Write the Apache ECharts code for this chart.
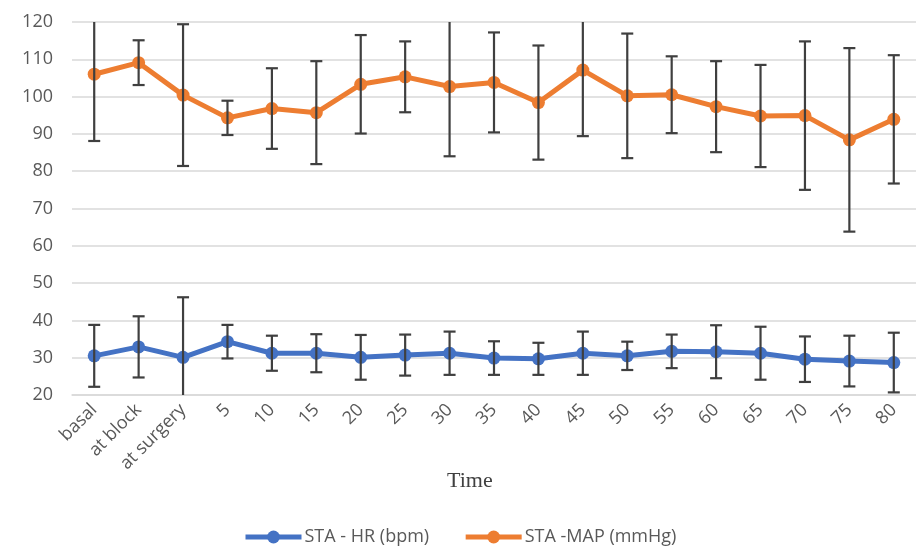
<!DOCTYPE html>
<html>
<head>
<meta charset="utf-8">
<script src="https://cdn.jsdelivr.net/npm/echarts@6/dist/echarts.min.js"></script>
<style>
  html, body { margin: 0; padding: 0; background: #fff; }
  #chart { width: 916px; height: 549px; }
</style>
</head>
<body>
<div id="chart"></div>
<script>
const timeLabels = ['basal', 'at block', 'at surgery', '5', '10', '15', '20', '25', '30', '35', '40', '45', '50', '55', '60', '65', '70', '75', '80'];

const hrMean = [30.5, 32.9, 30.1, 34.3, 31.2, 31.2, 30.1, 30.7, 31.2, 29.9, 29.7, 31.2, 30.5, 31.7, 31.6, 31.2, 29.6, 29.1, 28.7];
const hrSd = [8.3, 8.2, 16.1, 4.5, 4.7, 5.1, 6.0, 5.5, 5.8, 4.5, 4.3, 5.8, 3.8, 4.5, 7.1, 7.1, 6.1, 6.8, 8.0];

const mapMean = [106, 109.1, 100.4, 94.3, 96.8, 95.7, 103.3, 105.3, 102.7, 103.8, 98.4, 107.1, 100.2, 100.5, 97.3, 94.8, 94.9, 88.4, 93.9];
const mapSd = [17.9, 6, 19, 4.6, 10.8, 13.8, 13.2, 9.5, 18.7, 13.4, 15.3, 17.7, 16.7, 10.3, 12.2, 13.7, 19.9, 24.6, 17.2];

const yMin = 20, yMax = 120;

const errData = (mean, sd) => mean.map((m, i) => [i, m - sd[i], m + sd[i]]);

// error bars, clipped at the axis range (no cap where clipped)
const renderError = (params, api) => {
    const i = api.value(0);
    const lo = api.value(1), hi = api.value(2);
    const top = api.coord([i, Math.min(hi, yMax)]);
    const bot = api.coord([i, Math.max(lo, yMin)]);
    const cap = 6;
    const style = { stroke: '#3f3f3f', lineWidth: 2.2 };
    const children = [{ type: 'line', shape: { x1: top[0], y1: top[1], x2: bot[0], y2: bot[1] }, style }];
    if (hi <= yMax) children.push({ type: 'line', shape: { x1: top[0] - cap, y1: top[1], x2: top[0] + cap, y2: top[1] }, style });
    if (lo >= yMin) children.push({ type: 'line', shape: { x1: bot[0] - cap, y1: bot[1], x2: bot[0] + cap, y2: bot[1] }, style });
    return { type: 'group', children };
};

const chart = echarts.init(document.getElementById('chart'));
const font = 'Open Sans';
chart.setOption({
    animation: false,
    textStyle: { fontFamily: font },
    title: {
        text: 'Time', left: 442, top: 465,
        textStyle: { fontFamily: 'Liberation Serif', fontSize: 22, fontWeight: 'normal', color: '#404040' }
    },
    legend: {
        top: 523, left: 238, itemWidth: 56, itemHeight: 16, itemGap: 34,
        lineStyle: { width: 5 },
        textStyle: { fontSize: 18, color: '#595959', fontFamily: font, padding: [0, 0, 0, -2] },
        data: ['STA - HR (bpm)', 'STA -MAP (mmHg)']
    },
    grid: { left: 72, right: -5, top: 22, bottom: 154 },
    xAxis: {
        type: 'category',
        data: timeLabels,
        axisLine: { lineStyle: { color: '#d9d9d9', width: 1.5 } },
        axisTick: { show: false },
        axisLabel: { rotate: 45, fontSize: 18, color: '#595959', margin: 12, interval: 0 }
    },
    yAxis: {
        type: 'value', min: yMin, max: yMax, interval: 10,
        axisLine: { show: false },
        axisTick: { show: false },
        axisLabel: { fontSize: 18, color: '#595959', margin: 19 },
        splitLine: { lineStyle: { color: '#d9d9d9', width: 1.5 } }
    },
    series: [
        {
            name: 'STA - HR (bpm)', type: 'line', data: hrMean,
            symbol: 'circle', symbolSize: 13,
            lineStyle: { width: 5, color: '#4472C4' },
            itemStyle: { color: '#4472C4' }, z: 2
        },
        {
            name: 'STA -MAP (mmHg)', type: 'line', data: mapMean,
            symbol: 'circle', symbolSize: 13,
            lineStyle: { width: 5, color: '#ED7D31' },
            itemStyle: { color: '#ED7D31' }, z: 2
        },
        { type: 'custom', data: errData(hrMean, hrSd), renderItem: renderError, z: 3, silent: true },
        { type: 'custom', data: errData(mapMean, mapSd), renderItem: renderError, z: 3, silent: true }
    ]
});
</script>
</body>
</html>
